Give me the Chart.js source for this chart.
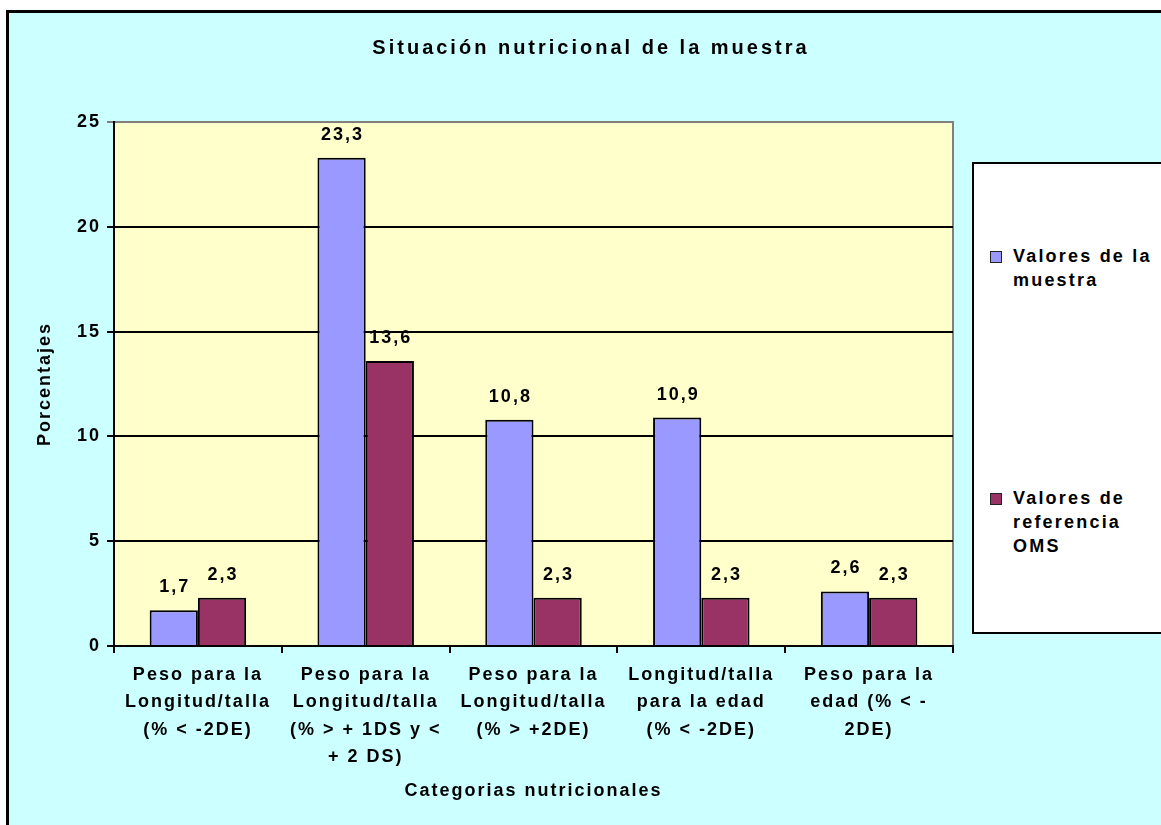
<!DOCTYPE html>
<html>
<head>
<meta charset="utf-8">
<script src="https://cdn.jsdelivr.net/npm/chart.js@4.4.0/dist/chart.umd.min.js"></script>
<style>
  body { margin: 0; background: #fff; }
  #wrap { position: relative; width: 1161px; height: 825px; overflow: hidden; }
  #legendBox {
    position: absolute; left: 972px; top: 162px; width: 220px; height: 468px;
    background: #fff; border: 2px solid #000;
    font: bold 18px "Liberation Sans", Arial, sans-serif; letter-spacing: 2.2px; color: #000;
  }
  .item { position: absolute; left: 16px; line-height: 24px; }
  .item span.box {
    position: absolute; left: 0; top: 7px; width: 10px; height: 10px; border: 1px solid #222;
  }
  .item div { padding-left: 23px; }
</style>
</head>
<body>
<div id="wrap">
  <canvas id="chart" width="1161" height="825"></canvas>
  <div id="legendBox"></div>
</div>
<script>
const categories = [
  ['Peso para la', 'Longitud/talla', '(% < -2DE)'],
  ['Peso para la', 'Longitud/talla', '(% > + 1DS y <', '+ 2 DS)'],
  ['Peso para la', 'Longitud/talla', '(% > +2DE)'],
  ['Longitud/talla', 'para la edad', '(% < -2DE)'],
  ['Peso para la', 'edad (% < -', '2DE)']
];
const muestra = [1.7, 23.3, 10.8, 10.9, 2.6];
const referencia = [2.3, 13.6, 2.3, 2.3, 2.3];
const seriesNames = [['Valores de la', 'muestra'], ['Valores de', 'referencia', 'OMS']];
const seriesColors = ['#9999FF', '#993366'];
const yTicks = [0, 5, 10, 15, 20, 25];

Chart.defaults.font.family = '"Liberation Sans", Arial, sans-serif';
Chart.defaults.font.weight = 'bold';
Chart.defaults.color = '#000';

// background, outer frame and title
const frame = {
  id: 'frame',
  beforeDraw(chart) {
    const ctx = chart.ctx;
    const a = chart.chartArea;
    ctx.save();
    ctx.fillStyle = '#fff';
    ctx.fillRect(0, 0, chart.width, chart.height);
    ctx.fillStyle = '#000';
    ctx.fillRect(6, 10, chart.width, chart.height);
    ctx.fillStyle = '#CCFFFF';
    ctx.fillRect(9, 13, chart.width, chart.height);
    ctx.fillStyle = '#FFFFCC';
    ctx.fillRect(a.left, a.top, a.right - a.left, a.bottom - a.top);
    ctx.strokeStyle = '#808080';
    ctx.lineWidth = 2;
    ctx.beginPath();
    ctx.moveTo(a.left, a.top);
    ctx.lineTo(a.right, a.top);
    ctx.lineTo(a.right, a.bottom);
    ctx.stroke();
    ctx.fillStyle = '#000';
    ctx.font = 'bold 20px "Liberation Sans", Arial, sans-serif';
    ctx.letterSpacing = '3px';
    ctx.textAlign = 'center';
    ctx.textBaseline = 'middle';
    ctx.fillText('Situación nutricional de la muestra', 591, 48);
    ctx.restore();
    ctx.letterSpacing = '2px';
  }
};

// value labels above the bars
const barLabels = {
  id: 'barLabels',
  afterDatasetsDraw(chart) {
    const ctx = chart.ctx;
    ctx.save();
    ctx.font = 'bold 18px "Liberation Sans", Arial, sans-serif';
    ctx.letterSpacing = '2px';
    ctx.fillStyle = '#000';
    ctx.textAlign = 'center';
    ctx.textBaseline = 'middle';
    chart.data.datasets.forEach((ds, i) => {
      chart.getDatasetMeta(i).data.forEach((bar, j) => {
        ctx.fillText(ds.data[j].toFixed(1).replace('.', ','), bar.x + 1, bar.y - 23);
      });
    });
    ctx.restore();
  }
};

new Chart(document.getElementById('chart'), {
  type: 'bar',
  data: {
    labels: categories,
    datasets: [
      { label: seriesNames[0].join(' '), data: muestra, backgroundColor: seriesColors[0], borderColor: '#000', borderWidth: 2 },
      { label: seriesNames[1].join(' '), data: referencia, backgroundColor: seriesColors[1], borderColor: '#000', borderWidth: 2 }
    ]
  },
  options: {
    responsive: false,
    animation: false,
    layout: { padding: { left: 20, top: 122, right: 208, bottom: 0 } },
    datasets: { bar: { categoryPercentage: 0.575, barPercentage: 1 } },
    plugins: { legend: { display: false }, tooltip: { enabled: false } },
    scales: {
      x: {
        grid: { drawOnChartArea: false, color: '#000', lineWidth: 2, tickLength: 7, offset: true },
        border: { color: '#000', width: 2 },
        ticks: { font: { size: 18, lineHeight: 1.53 }, padding: 8, maxRotation: 0, autoSkip: false },
        title: { display: true, text: 'Categorias nutricionales', font: { size: 18 }, padding: { top: 0, bottom: 23 } },
        afterFit(scale) { scale.height = 179; }
      },
      y: {
        min: 0,
        max: 25,
        afterBuildTicks(scale) { scale.ticks = yTicks.map(v => ({ value: v })); },
        grid: {
          color: c => (c.tick && c.tick.value === 25 ? '#808080' : '#000'),
          lineWidth: 2,
          tickLength: 7
        },
        border: { color: '#000', width: 2 },
        ticks: { font: { size: 18 }, padding: 6 },
        title: { display: true, text: 'Porcentajes', font: { size: 18 }, padding: { top: 14, bottom: 0 } },
        afterFit(scale) { scale.width = 94; }
      }
    }
  },
  plugins: [frame, barLabels]
});

// legend box
const legendBox = document.getElementById('legendBox');
const itemTops = [80, 322];
seriesNames.forEach((lines, i) => {
  const item = document.createElement('div');
  item.className = 'item';
  item.style.top = itemTops[i] + 'px';
  item.innerHTML = '<span class="box" style="background:' + seriesColors[i] + '"></span><div>' + lines.join('<br>') + '</div>';
  legendBox.appendChild(item);
});
</script>
</body>
</html>
